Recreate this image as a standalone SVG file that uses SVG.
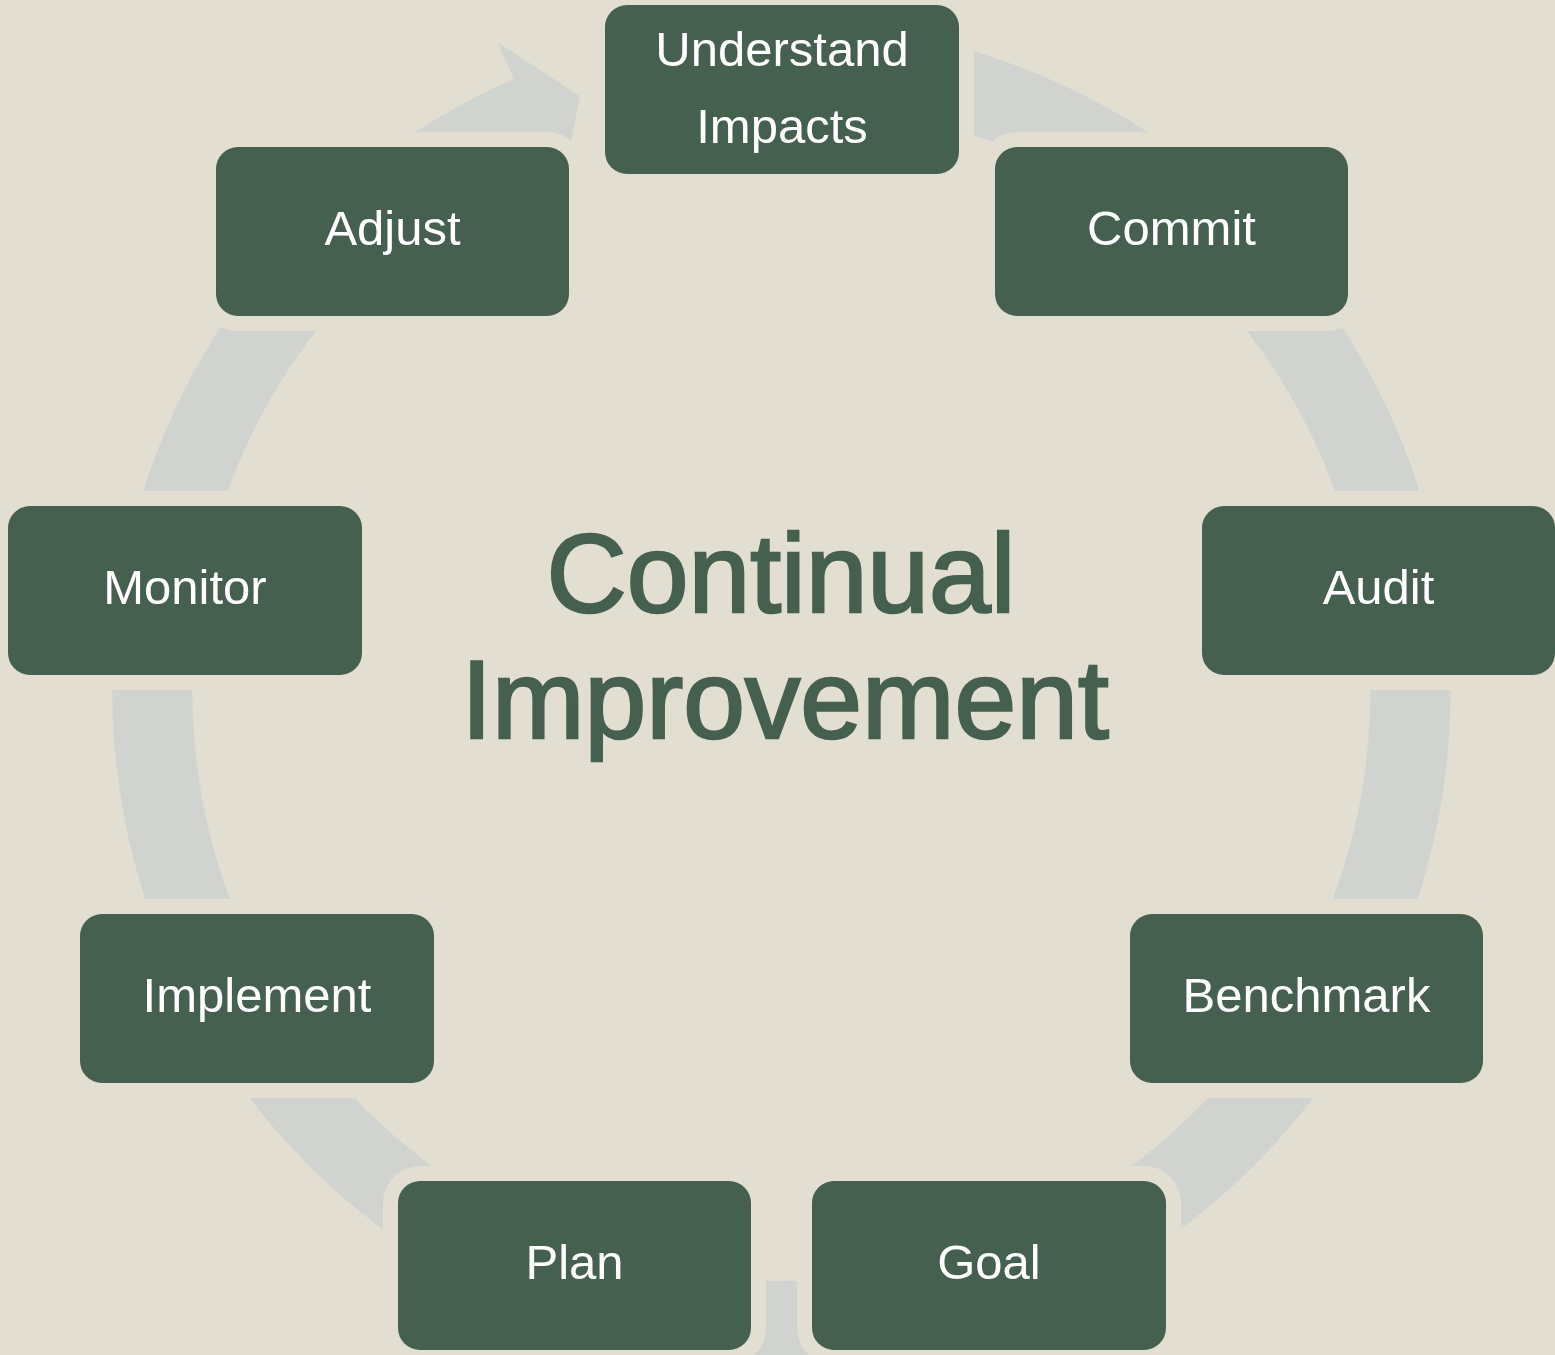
<svg xmlns="http://www.w3.org/2000/svg" width="1555" height="1355" viewBox="0 0 1555 1355">
  <style>
    .box { fill: #466050; stroke: #E3DED2; stroke-width: 30; paint-order: stroke; }
    .lbl { font-family: "Liberation Sans", Arial, sans-serif; font-size: 49px; fill: #FFFFFF; text-anchor: middle; }
    .title { font-family: "Liberation Sans", Arial, sans-serif; font-size: 111px; fill: #466050; stroke: #466050; stroke-width: 2.5; text-anchor: middle; }
  </style>
  <rect x="0" y="0" width="1555" height="1355" fill="#E3DED2"/>
  <g id="connectors">
    <path d="M 781.5 23 A 669 669 0 1 1 513.7 78.9 L 497.7 42.3 L 579.8 96.2 L 561.7 188.9 L 545.7 152.2 A 589 589 0 1 0 781.5 103 Z" fill="#D0D3D0"/>
  </g>
  <g id="node-understand">
    <rect class="box" x="605" y="5" width="354" height="169" rx="22"/>
    <text class="lbl" x="782" y="66">Understand</text>
    <text class="lbl" x="782" y="143">Impacts</text>
  </g>
  <g id="node-commit">
    <rect class="box" x="995" y="147" width="353" height="169" rx="22"/>
    <text class="lbl" x="1171.5" y="245">Commit</text>
  </g>
  <g id="node-audit">
    <rect class="box" x="1202" y="506" width="353" height="169" rx="22"/>
    <text class="lbl" x="1378.5" y="604">Audit</text>
  </g>
  <g id="node-benchmark">
    <rect class="box" x="1130" y="914" width="353" height="169" rx="22"/>
    <text class="lbl" x="1306.5" y="1012">Benchmark</text>
  </g>
  <g id="node-goal">
    <rect class="box" x="812" y="1181" width="354" height="169" rx="22"/>
    <text class="lbl" x="989" y="1279">Goal</text>
  </g>
  <g id="node-plan">
    <rect class="box" x="398" y="1181" width="353" height="169" rx="22"/>
    <text class="lbl" x="574.5" y="1279">Plan</text>
  </g>
  <g id="node-implement">
    <rect class="box" x="80" y="914" width="354" height="169" rx="22"/>
    <text class="lbl" x="257" y="1012">Implement</text>
  </g>
  <g id="node-monitor">
    <rect class="box" x="8" y="506" width="354" height="169" rx="22"/>
    <text class="lbl" x="185" y="604">Monitor</text>
  </g>
  <g id="node-adjust">
    <rect class="box" x="216" y="147" width="353" height="169" rx="22"/>
    <text class="lbl" x="392.5" y="245">Adjust</text>
  </g>
  <g id="center-title">
    <text class="title" x="781" y="612">Continual</text>
    <text class="title" x="785" y="738">Improvement</text>
  </g>
</svg>
